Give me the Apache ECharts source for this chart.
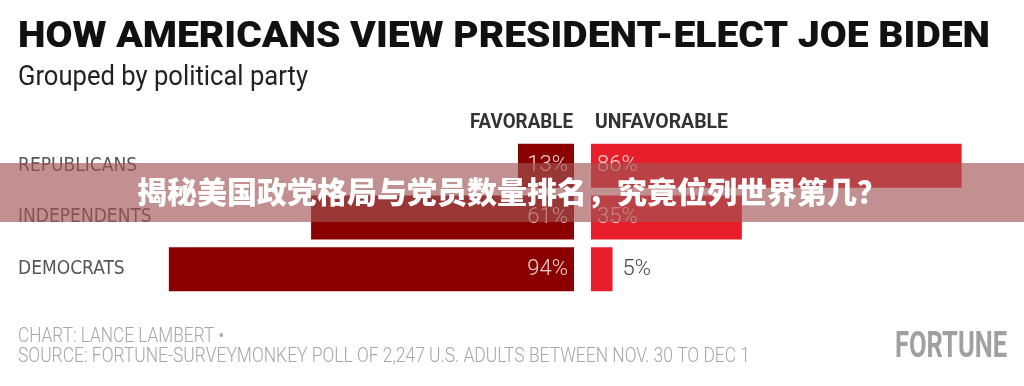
<!DOCTYPE html>
<html><head><meta charset="utf-8">
<script src="https://cdn.jsdelivr.net/npm/echarts@6/dist/echarts.min.js"></script>
<style>html,body{margin:0;padding:0;background:#fff}#c{width:1024px;height:386px}</style>
</head><body><div id="c"></div>
<script>
var categories = ['REPUBLICANS', 'INDEPENDENTS', 'DEMOCRATS'];
var favorable = [13, 61, 94];
var unfavorable = [86, 35, 5];
var seriesNames = ['FAVORABLE', 'UNFAVORABLE'];

var COND = "'DejaVu Sans Condensed',sans-serif";
var measureCtx = document.createElement('canvas').getContext('2d');

// text squeezed horizontally to a target width (the reference uses condensed type)
function fitText(text, font, left, midY, targetW, fill, extra) {
  measureCtx.font = font;
  var w = measureCtx.measureText(text).width;
  var el = {type: 'text', x: left, y: midY, scaleX: targetW / w, scaleY: 1,
    style: {text: text, font: font, fill: fill, x: 0, y: 0, align: 'left', verticalAlign: 'middle'}};
  if (extra) { for (var k in extra) el[k] = extra[k]; }
  return el;
}

var chart = echarts.init(document.getElementById('c'), null, {renderer: 'canvas'});
function pct(v) { return v + '%'; }

chart.setOption({
  animation: false,
  backgroundColor: '#ffffff',
  graphic: [
    fitText('HOW AMERICANS VIEW PRESIDENT-ELECT JOE BIDEN', "900 37px Roboto, sans-serif", 18, 38, 972, '#111'),
    fitText('Grouped by political party', "400 28px Roboto, sans-serif", 18, 78, 290, '#222'),
    fitText(seriesNames[0], "700 21px Roboto, sans-serif", 470, 123, 103, '#333'),
    fitText(seriesNames[1], "700 21px Roboto, sans-serif", 595, 123, 133, '#333'),
    fitText('CHART: LANCE LAMBERT •', "300 20px Roboto, sans-serif", 18, 337, 206, '#a6a6a6'),
    fitText('SOURCE: FORTUNE-SURVEYMONKEY POLL OF 2,247 U.S. ADULTS BETWEEN NOV. 30 TO DEC 1', "300 20px Roboto, sans-serif", 18, 357, 732, '#a6a6a6'),
    fitText('FORTUNE', "700 36px Roboto, sans-serif", 895, 347.5, 112, '#a0a0a0'),
    {type: 'rect', x: 0, y: 163, z: 100, shape: {x: 0, y: 0, width: 1024, height: 59},
      style: {fill: 'rgba(162,84,84,0.65)'}},
    {type: 'text', left: 'center', top: 177, z: 101, style: {
      text: '揭秘美国政党格局与党员数量排名，究竟位列世界第几？',
      font: "900 30px 'Noto Sans CJK SC',sans-serif", fill: '#ffffff',
      shadowColor: 'rgba(60,0,0,0.6)', shadowBlur: 3, shadowOffsetX: 1, shadowOffsetY: 1}}
  ],
  grid: [
    {left: 143, width: 431, top: 140, height: 155, containLabel: false},
    {left: 591, width: 431, top: 140, height: 155, containLabel: false}
  ],
  xAxis: [
    {gridIndex: 0, type: 'value', min: 0, max: 100, inverse: true, show: false},
    {gridIndex: 1, type: 'value', min: 0, max: 100, show: false}
  ],
  yAxis: [
    {gridIndex: 0, type: 'category', data: categories, inverse: true,
     axisLine: {show: false}, axisTick: {show: false}, splitLine: {show: false},
     axisLabel: {align: 'left', margin: 125, fontFamily: COND, fontSize: 19, color: '#555'}},
    {gridIndex: 1, type: 'category', data: categories, inverse: true, show: false}
  ],
  series: [
    {name: seriesNames[0], type: 'bar', xAxisIndex: 0, yAxisIndex: 0, barWidth: 44,
     itemStyle: {color: '#8a0000'},
     label: {show: true, position: 'insideRight', distance: 6, formatter: function (p) { return pct(p.value); },
       fontFamily: 'Roboto', fontWeight: 300, fontSize: 22, color: '#f3d3d3'},
     data: favorable},
    {name: seriesNames[1], type: 'bar', xAxisIndex: 1, yAxisIndex: 1, barWidth: 44,
     itemStyle: {color: '#e81f2a'},
     label: {show: true, position: 'insideLeft', distance: 6, formatter: function (p) { return pct(p.value); },
       fontFamily: 'Roboto', fontWeight: 300, fontSize: 22, color: '#f8d3d3'},
     data: unfavorable.map(function (v) {
       return v < 10 ? {value: v, label: {position: 'right', distance: 10, color: '#444'}} : v;
     })}
  ]
});
</script></body></html>
